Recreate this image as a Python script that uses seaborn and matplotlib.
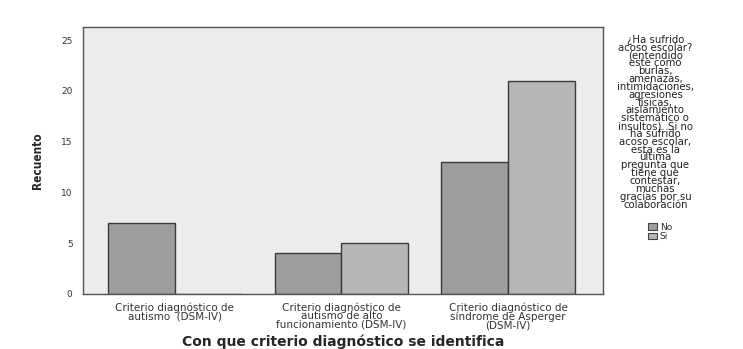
import matplotlib
matplotlib.use('Agg')
import matplotlib.pyplot as plt
import seaborn as sns
import pandas as pd

# Data
categories = ['Criterio diagnóstico de\nautismo  (DSM-IV)',
              'Criterio diagnóstico de\nautismo de alto\nfuncionamiento (DSM-IV)',
              'Criterio diagnóstico de\nsíndrome de Asperger\n(DSM-IV)']
no_counts = [7, 4, 13]
si_counts = [0, 5, 21]
hue_labels = ['No', 'Si']
colors = ['#9e9e9e', '#b6b6b6']

legend_title = ('¿Ha sufrido\nacoso escolar?\n(entendido\neste como\nburlas,\namenazas,\n'
                'intimidaciones,\nagresiones\nfísicas,\naislamiento\nsistemático o\n'
                'insultos). Si no\nha sufrido\nacoso escolar,\nesta es la\núltima\n'
                'pregunta que\ntiene que\ncontestar,\nmuchas\ngracias por su\ncolaboración')

df = pd.DataFrame({
    'cat': categories * 2,
    'resp': [hue_labels[0]] * 3 + [hue_labels[1]] * 3,
    'n': no_counts + si_counts,
})

sns.set_style('white')
plt.rcParams['font.family'] = ['DejaVu Sans']

fig = plt.figure(figsize=(7.43, 3.49), dpi=100)
ax = fig.add_axes([0.1117, 0.1576, 0.70, 0.765])
ax.set_facecolor('#ececec')

sns.barplot(data=df, x='cat', y='n', hue='resp', hue_order=hue_labels,
            palette=colors, width=0.8, edgecolor='#3a3a3a', linewidth=1.0,
            saturation=1, ax=ax)

ax.set_xlim(-0.55, 2.57)
ax.set_ylim(0, 26.3)
ax.set_yticks([0, 5, 10, 15, 20, 25])
ax.tick_params(axis='both', direction='out', length=4, width=1, color='#444444',
               labelsize=6.5, labelcolor='#333333')
ax.tick_params(axis='x', labelsize=7.5, pad=2)
for lbl in ax.get_xticklabels():
    lbl.set_linespacing(0.8)
for s in ax.spines.values():
    s.set_color('#555555')
    s.set_linewidth(1)
    s.set_visible(True)

ax.set_ylabel('Recuento', fontsize=8.5, fontweight='bold', fontstretch='condensed', labelpad=12)
ax.set_xlabel('Con que criterio diagnóstico se identifica', fontsize=10, fontweight='bold',
              labelpad=3)

ax.get_legend().remove()
handles = [plt.Rectangle((0, 0), 1, 1, facecolor=c, edgecolor='#444444', linewidth=0.8)
           for c in colors]
fig.text(0.882, 0.90, legend_title, ha='center', va='top', fontsize=7.3,
         linespacing=0.73, color='#222222')
fig.legend(handles, hue_labels, loc='upper left', bbox_to_anchor=(0.866, 0.375),
           frameon=False, fontsize=6.5, handlelength=1.0, handleheight=0.8,
           handletextpad=0.3, labelspacing=0.05, borderpad=0)

fig.savefig('out.png', dpi=100, facecolor='white')
